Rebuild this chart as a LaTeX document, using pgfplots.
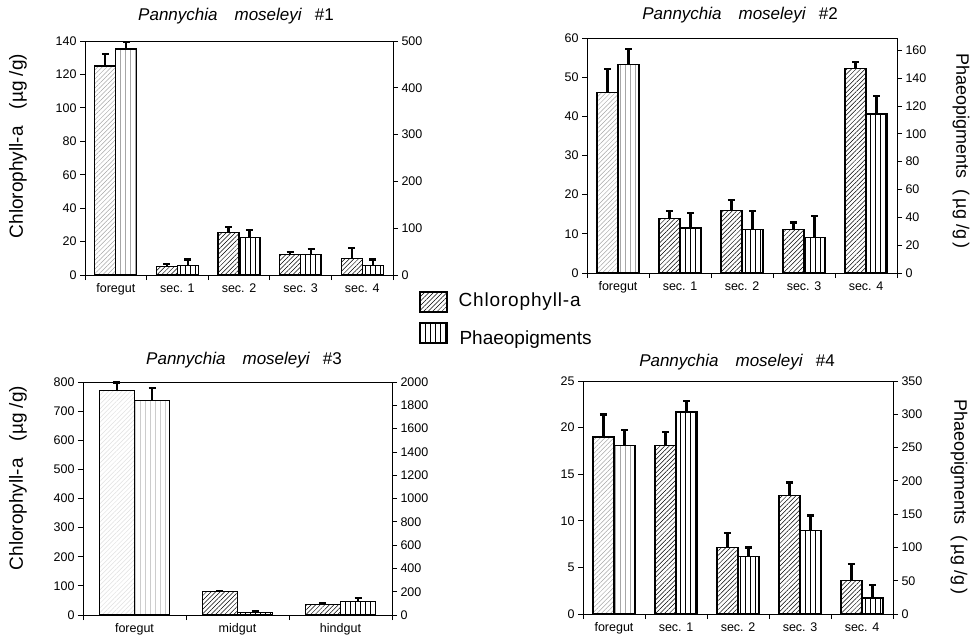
\documentclass[border=0pt]{standalone}
\usepackage{fontspec}
\setmainfont{Liberation Sans}
\usepackage{pgfplots}
\usepackage{pgfplotstable}
\pgfplotsset{compat=1.18}
\usetikzlibrary{patterns.meta}

% ---------- data (x = category index, y = value, e = upper error) ----------
\pgfplotstableread{
x y e
0 125 7
1 5.0 1.4
2 25.5 3.2
3 12.1 1.8
4 10 6.3
}\chlA
\pgfplotstableread{
x y e
0 483 15
1 20 13
2 80 16
3 43 13
4 20 13
}\phaA
\pgfplotstableread{
x y e
0 46 6
1 14 1.8
2 15.9 2.7
3 11.1 1.8
4 52.3 1.6
}\chlB
\pgfplotstableread{
x y e
0 150 11
1 32.4 11
2 31 13.3
3 25.4 15.3
4 114.3 12.7
}\phaB
\pgfplotstableread{
x y e
0 771 27
1 80 2
2 35.4 7
}\chlC
\pgfplotstableread{
x y e
0 1840 111
1 23 8
2 114 29
}\phaC
\pgfplotstableread{
x y e
0 19.0 2.4
1 18.1 1.4
2 7.1 1.6
3 12.7 1.4
4 3.6 1.8
}\chlD
\pgfplotstableread{
x y e
0 253.5 23.5
1 303.5 16
2 86 14
3 125.5 22.5
4 24 19
}\phaD

\tikzset{
  chlpat/.style={pattern={Lines[angle=45,distance=3.2pt,line width=0.5pt]},pattern color=#1},
  phapat/.style={pattern={Lines[angle=90,distance=5pt,line width=0.7pt]},pattern color=#1},
}

\pgfplotsset{
  base/.style={
    scale only axis, anchor=south west,
    ymin=0,
    axis line style={line width=0.8pt},
    tick align=outside,
    major tick length=5pt,
    tick style={black,line width=0.8pt},
    tick label style={font=\fontsize{12.5}{14}\selectfont},
    /pgf/number format/assume math mode=true,
    /pgf/number format/1000 sep={},
    clip=false,
  },
  leftax/.style={base,
    ytick pos=left, xtick pos=bottom,
    xticklabels={},
    extra x tick style={major tick length=0pt, xticklabel style={yshift=-5pt}},
  },
  rightax/.style={base,
    axis y line*=right, axis x line=none,
  },
  errs/.style={
    error bars/y dir=plus, error bars/y explicit,
    error bars/error bar style={line width=2.2pt,black},
    error bars/error mark options={rotate=90,mark size=3.5pt,line width=2.2pt,black}},
  chlbar/.style={ybar, bar width=0.34, bar shift=0, draw=black, line width=1.2pt,
    chlpat=#1, errs},
  phabar/.style={ybar, bar width=0.34, bar shift=0, draw=black, line width=1.2pt,
    phapat=#1, errs},
  table/cl/.style={x expr=\thisrow{x}-0.17, y=y, y error=e},
  table/ph/.style={x expr=\thisrow{x}+0.17, y=y, y error=e},
  fg/.style={restrict x to domain=-0.45:0.45},
  rest/.style={restrict x to domain=0.5:10},
}

\newcommand{\ttl}[1]{\textit{Pannychia}\hspace{1em}\textit{moseleyi}\hspace{0.75em}\#{}#1}

\begin{document}
\begin{tikzpicture}
\useasboundingbox (0pt,0pt) rectangle (976pt,-640pt);

% ================= Panel 1 =================
\begin{axis}[leftax, at={(85pt,-275pt)}, width=308pt, height=234pt,
  xmin=-0.5, xmax=4.5, ymax=140, ytick={0,20,...,140},
  xtick={-0.5,0.5,...,4.5},
  extra x ticks={0,1,2,3,4},
  extra x tick labels={foregut,sec. 1,sec. 2,sec. 3,sec. 4}]
\addplot[chlbar=gray!70, fg] table[cl]{\chlA};
\addplot[chlbar=black, rest] table[cl]{\chlA};
\end{axis}
\begin{axis}[rightax, at={(85pt,-275pt)}, width=308pt, height=234pt,
  xmin=-0.5, xmax=4.5, ymax=500, ytick={0,100,...,500}]
\addplot[phabar=gray!70, fg] table[ph]{\phaA};
\addplot[phabar=black, rest] table[ph]{\phaA};
\end{axis}

% ================= Panel 2 =================
\begin{axis}[leftax, at={(587pt,-273pt)}, width=310pt, height=235pt,
  xmin=-0.5, xmax=4.5, ymax=60, ytick={0,10,...,60},
  xtick={-0.5,0.5,...,4.5},
  extra x ticks={0,1,2,3,4},
  extra x tick labels={foregut,sec. 1,sec. 2,sec. 3,sec. 4}]
\addplot[chlbar=gray!70, fg] table[cl]{\chlB};
\addplot[chlbar=black, rest] table[cl]{\chlB};
\end{axis}
\begin{axis}[rightax, at={(587pt,-273pt)}, width=310pt, height=235pt,
  xmin=-0.5, xmax=4.5, ymax=168.9, ytick={0,20,...,160}]
\addplot[phabar=gray!70, fg] table[ph]{\phaB};
\addplot[phabar=black, rest] table[ph]{\phaB};
\end{axis}

% ================= Panel 3 =================
\begin{axis}[leftax, at={(83pt,-615pt)}, width=309pt, height=233pt,
  xmin=-0.5, xmax=2.5, ymax=800, ytick={0,100,...,800},
  xtick={-0.5,0.5,...,2.5},
  extra x ticks={0,1,2},
  extra x tick labels={foregut,midgut,hindgut}]
\addplot[chlbar=gray!25, fg] table[cl]{\chlC};
\addplot[chlbar=black, rest] table[cl]{\chlC};
\end{axis}
\begin{axis}[rightax, at={(83pt,-615pt)}, width=309pt, height=233pt,
  xmin=-0.5, xmax=2.5, ymax=2000, ytick={0,200,...,2000}]
\addplot[phabar=gray!40, fg] table[ph]{\phaC};
\addplot[phabar=black, rest] table[ph]{\phaC};
\end{axis}

% ================= Panel 4 =================
\begin{axis}[leftax, at={(583pt,-614pt)}, width=310pt, height=233pt,
  xmin=-0.5, xmax=4.5, ymax=25, ytick={0,5,...,25},
  xtick={-0.5,0.5,...,4.5},
  extra x ticks={0,1,2,3,4},
  extra x tick labels={foregut,sec. 1,sec. 2,sec. 3,sec. 4}]
\addplot[chlbar=gray!70, fg] table[cl]{\chlD};
\addplot[chlbar=black, rest] table[cl]{\chlD};
\end{axis}
\begin{axis}[rightax, at={(583pt,-614pt)}, width=310pt, height=233pt,
  xmin=-0.5, xmax=4.5, ymax=350, ytick={0,50,...,350}]
\addplot[phabar=gray!70, fg] table[ph]{\phaD};
\addplot[phabar=black, rest] table[ph]{\phaD};
\end{axis}

% ---------- titles ----------
\begin{scope}[every node/.style={font=\fontsize{17}{20}\selectfont}]
\node at (236pt,-16pt) {\ttl{1}};
\node at (740pt,-15pt) {\ttl{2}};
\node at (244pt,-360pt) {\ttl{3}};
\node at (737pt,-362pt) {\ttl{4}};
\end{scope}

% ---------- axis titles ----------
\begin{scope}[every node/.style={font=\fontsize{19}{22}\selectfont}]
\node[rotate=90] at (18pt,-146pt) {Chlorophyll-a\hspace{0.9em}(µg /g)};
\node[rotate=90] at (18pt,-478pt) {Chlorophyll-a\hspace{0.9em}(µg /g)};
\end{scope}
\begin{scope}[every node/.style={font=\fontsize{18}{22}\selectfont}]
\node[rotate=-90] at (961pt,-151pt) {Phaeopigments\hspace{0.6em}(\,µg /g\,)};
\node[rotate=-90] at (959pt,-497pt) {Phaeopigments\hspace{0.6em}(\,µg /g\,)};
\end{scope}

% ---------- legend ----------
\draw[line width=1.2pt, chlpat=black] (420pt,-292pt) rectangle (447pt,-312pt);
\draw[line width=1.2pt, phapat=black] (420pt,-323pt) rectangle (447pt,-343pt);
\node[anchor=west, font=\fontsize{19}{22}\selectfont\addfontfeatures{LetterSpace=4.5}] at (455pt,-302pt) {Chlorophyll-a};
\node[anchor=west, font=\fontsize{19}{22}\selectfont] at (456pt,-340pt) {Phaeopigments};
\end{tikzpicture}
\end{document}
